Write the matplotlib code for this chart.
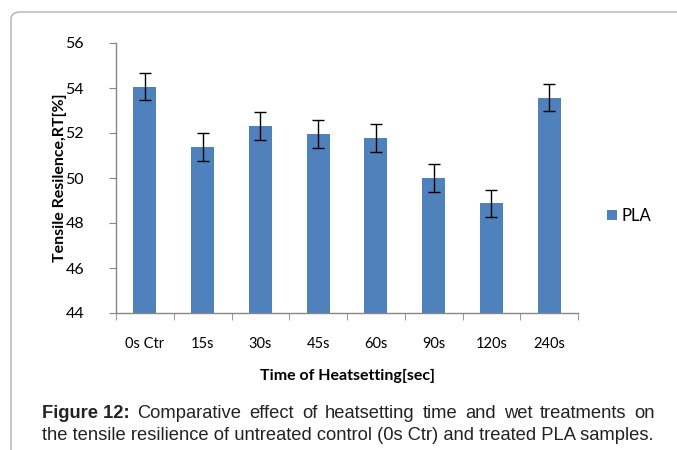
import matplotlib.pyplot as plt
from matplotlib.patches import FancyBboxPatch
import numpy as np

categories = ["0s Ctr", "15s", "30s", "45s", "60s", "90s", "120s", "240s"]
resilience = [54.06, 51.38, 52.31, 51.97, 51.76, 50.0, 48.87, 53.56]
errors = [0.6, 0.62, 0.62, 0.62, 0.62, 0.62, 0.6, 0.6]
y_ticks = [44, 46, 48, 50, 52, 54, 56]

caption_bold = "Figure 12:"
caption_line1 = "Comparative effect of heatsetting time and wet treatments on"
caption_line2 = "the tensile resilience of untreated control (0s Ctr) and treated PLA samples."

BAR_COLOR = "#4f81bd"
AXIS_COLOR = "#868686"
CHART_FONT = ["Lato", "DejaVu Sans"]
CAPTION_FONT = ["Liberation Sans", "DejaVu Sans"]
CAPTION_SIZE = 13.2

W, H = 677, 450
fig = plt.figure(figsize=(W / 100, H / 100), dpi=100)

# frame around the chart (rounded top-left corner, open on right/bottom)
frame = FancyBboxPatch((11 / W, -0.2), 1.2, (H - 12) / H + 0.2,
                       boxstyle="round,pad=0,rounding_size=0.015",
                       transform=fig.transFigure, fill=False,
                       edgecolor="#b0b0b0", linewidth=1.0)
fig.patches.append(frame)

ax = fig.add_axes([116 / W, 1 - 313 / H, (578 - 116) / W, (313 - 43) / H])
x = np.arange(len(categories))
ax.bar(x, resilience, width=0.4, color=BAR_COLOR, label="PLA", zorder=2)
ax.errorbar(x, resilience, yerr=errors, fmt="none", ecolor="black",
            elinewidth=1.0, capsize=4, capthick=1.0, zorder=3)

ax.set_xlim(-0.5, len(categories) - 0.5)
ax.set_ylim(44, 56)
ax.set_yticks(y_ticks)
ax.set_yticklabels([str(v) for v in y_ticks], fontfamily=CHART_FONT, fontsize=11.5)
ax.set_xticks(x)
ax.set_xticklabels(categories, fontfamily=CHART_FONT, fontsize=10.5)
ax.set_xticks(np.arange(-0.5, len(categories)), minor=True)
ax.tick_params(axis="x", which="major", length=0, pad=17)
ax.tick_params(axis="x", which="minor", length=5, color=AXIS_COLOR, direction="out")
ax.tick_params(axis="y", length=5, color=AXIS_COLOR, direction="out", pad=18)

for side in ["top", "right"]:
    ax.spines[side].set_visible(False)
for side in ["left", "bottom"]:
    ax.spines[side].set_color(AXIS_COLOR)
    ax.spines[side].set_linewidth(1.0)

ax.set_ylabel("Tensile Resilence,RT[%]", fontfamily=CHART_FONT, fontsize=11.5,
              fontweight="bold")
ax.yaxis.set_label_coords((67 - 116) / 462, 0.5)
ax.set_xlabel("Time of Heatsetting[sec]", fontfamily=CHART_FONT, fontsize=11.5,
              fontweight="bold", labelpad=13)

ax.legend(loc="center left", bbox_to_anchor=(1.03, 0.36), frameon=False,
          handlelength=0.6, handleheight=0.6, handletextpad=0.3,
          prop={"family": CHART_FONT, "size": 12})

# caption, first line justified between the margins
renderer = fig.canvas.get_renderer()
left, right = 42, 655
y1, y2 = 1 - 413 / H, 1 - 435 / H
kw = dict(fontfamily=CAPTION_FONT, fontsize=CAPTION_SIZE, va="center",
          ha="left", color="#222222")

texts1 = [fig.text(0, y1, caption_bold, fontweight="bold", **kw)]
for w in caption_line1.split():
    texts1.append(fig.text(0, y1, w, **kw))
widths1 = [t.get_window_extent(renderer).width for t in texts1]
gap1 = (right - left - sum(widths1)) / (len(texts1) - 1)
pos = left
for t, wd in zip(texts1, widths1):
    t.set_x(pos / W)
    pos += wd + gap1

fig.text(left / W, y2, caption_line2, **kw)

fig.savefig("out.png", dpi=100)
